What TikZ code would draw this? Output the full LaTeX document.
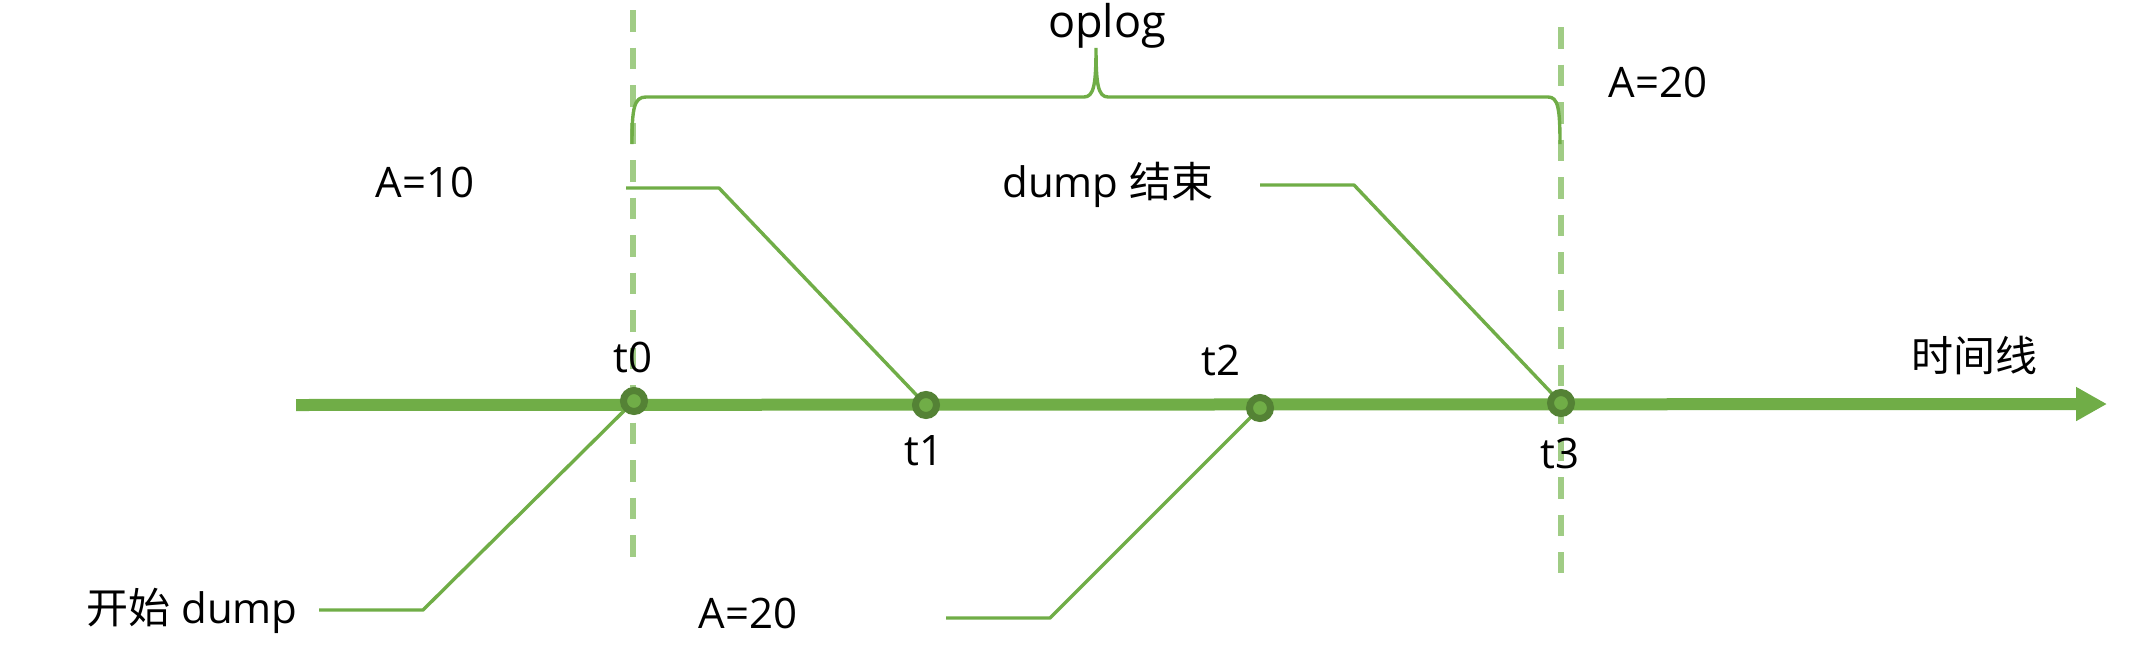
\documentclass[tikz,border=0pt]{standalone}
\usepackage{fontspec}
\setmainfont{Open Sans}
\newfontfamily\cjk{Noto Sans CJK SC}
\usetikzlibrary{arrows.meta}
\definecolor{gline}{HTML}{70AD47}
\definecolor{gdark}{HTML}{548235}
\definecolor{glight}{HTML}{A0CC85}
\tikzset{
  lbl/.style={anchor=base, inner sep=0pt, font=\fontsize{42}{50}\selectfont, text=black},
  conn/.style={draw=gline, line width=3.4pt, line join=round},
  vdash/.style={draw=glight, line width=5.5pt, dash pattern=on 21.5pt off 16pt},
  tick/.style={circle, draw=gdark, fill=gline, line width=7pt, minimum size=21pt, inner sep=0pt, outer sep=0pt},
  timeline/.style={draw=gline, line width=12pt, -{Triangle[length=31pt,width=32pt]}},
  bracepath/.style={draw=gline, line width=3.4pt}
}
\begin{document}
\begin{tikzpicture}[x=1pt,y=-1pt]
\useasboundingbox (0,0) rectangle (2132,656);
% coordinates
\coordinate (p0) at (634,401);
\coordinate (p1) at (926,405);
\coordinate (p2) at (1260,408);
\coordinate (p3) at (1561,403);
\coordinate (ls) at (296,405);
\coordinate (le) at (2107,404);
\coordinate (d0a) at (633,10);
\coordinate (d0b) at (633,557);
\coordinate (d1a) at (1561,27);
\coordinate (d1b) at (1561,573);
% dashed verticals
\draw[vdash] (d0a) -- (d0b);
\draw[vdash] (d1a) -- (d1b);
% brace
\coordinate (bl) at (632,144);
\coordinate (br) at (1560,144);
\coordinate (bp) at (1096,48);
\draw[bracepath] (bl) .. controls (632,108) and (634,97) .. (646,97)
  -- (1084,97) .. controls (1094,97) and (1096,84) .. (bp)
  .. controls (1096,84) and (1098,97) .. (1108,97)
  -- (1548,97) .. controls (1558,97) and (1560,108) .. (br);
% timeline
\draw[timeline] (ls) -- (le);
% connectors
\coordinate (c0a) at (319,610); \coordinate (c0b) at (423,610);
\coordinate (c1a) at (626,188); \coordinate (c1b) at (719,188);
\coordinate (c2a) at (946,618); \coordinate (c2b) at (1050,618);
\coordinate (c3a) at (1260,185); \coordinate (c3b) at (1354,185);
\draw[conn] (c0a) -- (c0b) -- (p0);
\draw[conn] (c1a) -- (c1b) -- (p1);
\draw[conn] (c2a) -- (c2b) -- (p2);
\draw[conn] (c3a) -- (c3b) -- (p3);
% tick circles
\node[tick] (k0) at (p0) {};
\node[tick] (k1) at (p1) {};
\node[tick] (k2) at (p2) {};
\node[tick] (k3) at (p3) {};
% labels
\node[lbl] (lt0) at (633,372) {t0};
\node[lbl] (lt1) at (924,465) {t1};
\node[lbl] (lt2) at (1221,375) {t2};
\node[lbl] (lt3) at (1560,468) {t3};
\node[lbl] (ltl) at (1974,371) {\cjk 时间线};
\node[lbl, font=\fontsize{45}{54}\selectfont] (lop) at (1107,37) {oplog};
\node[lbl] (la10) at (425,197) {A=10};
\node[lbl] (la20t) at (1658,97) {A=20};
\node[lbl] (la20b) at (748,628) {A=20};
\node[lbl] (lstart) at (192,623) {{\cjk 开始} dump};
\node[lbl] (lend) at (1108,197) {dump {\cjk 结束}};
\end{tikzpicture}
\end{document}
